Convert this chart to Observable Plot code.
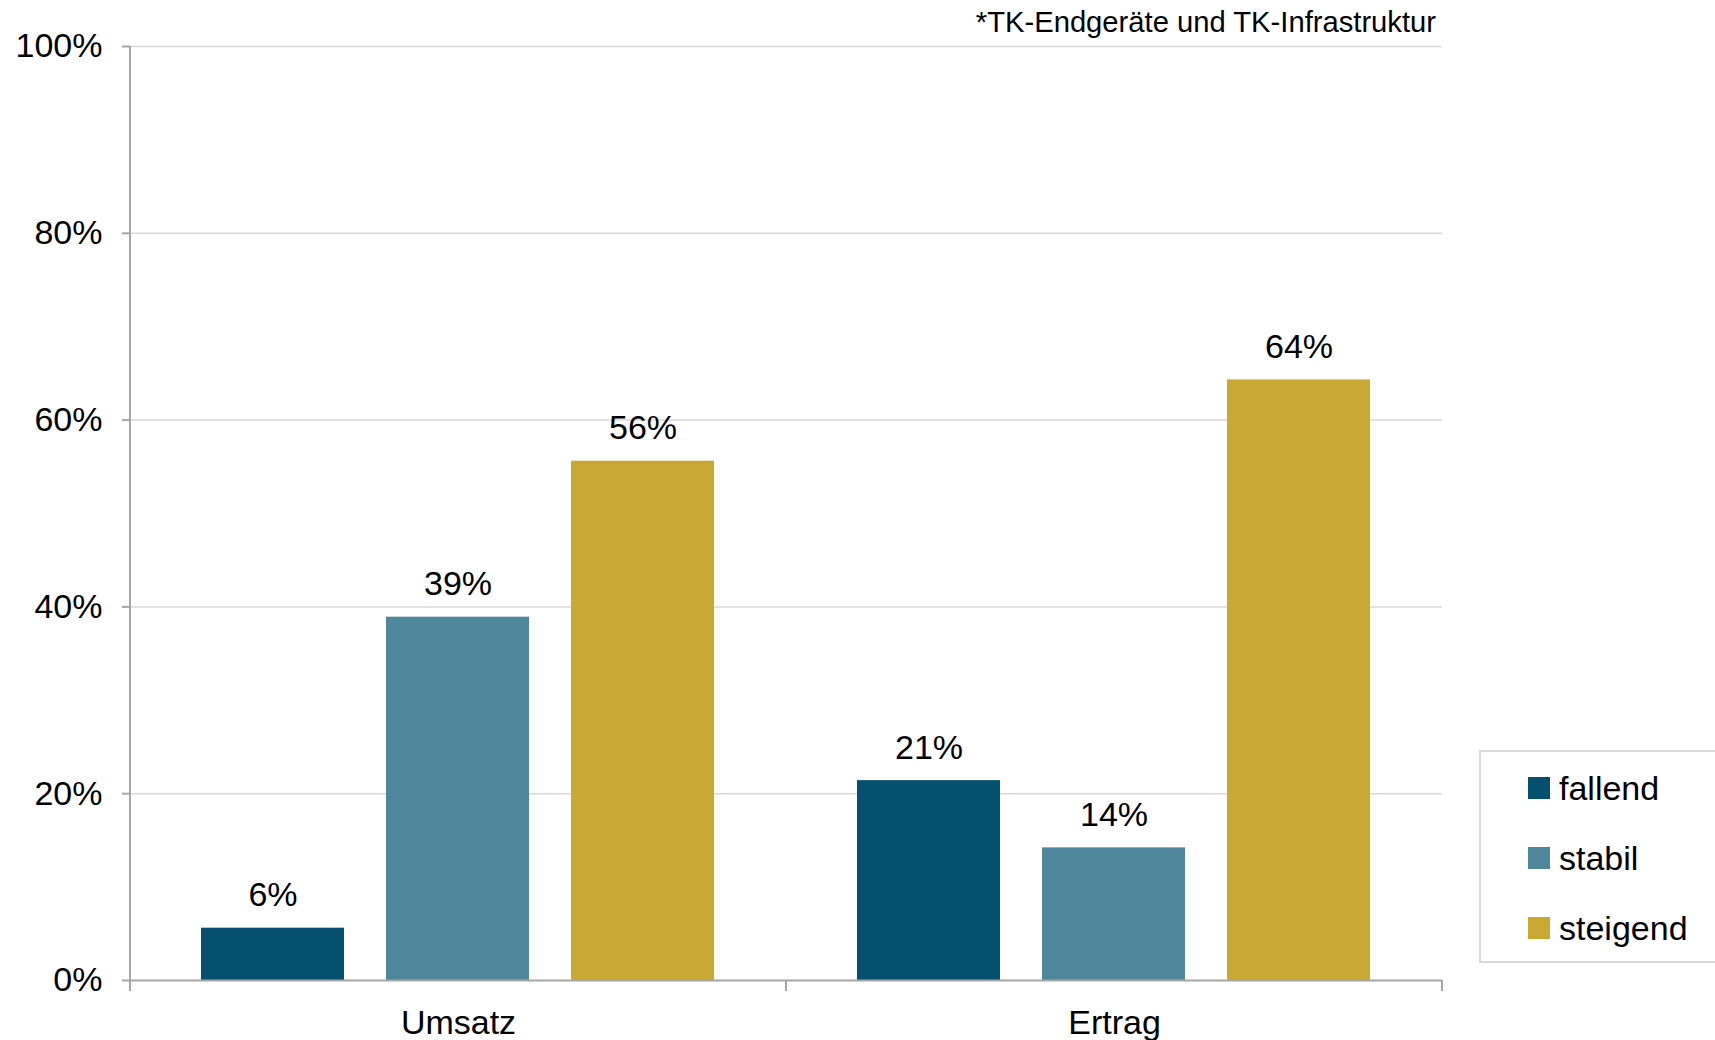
<!DOCTYPE html>
<html>
<head>
<meta charset="utf-8">
<script src="https://cdn.jsdelivr.net/npm/d3@7"></script>
<script src="https://cdn.jsdelivr.net/npm/@observablehq/plot@0.6"></script>
<style>
  body { margin: 0; background: #fff; font-family: Arial, "Liberation Sans", sans-serif; }
  #wrap { position: relative; width: 1715px; height: 1040px; overflow: hidden; background: #fff; }
  #note { position: absolute; top: 8px; right: 279px; font-size: 29.2px; line-height: 1; color: #000; white-space: nowrap; }
  #legend { position: absolute; left: 1479px; top: 750px; width: 260px; height: 213px; border: 2px solid #d9d9d9; box-sizing: border-box; }
  .li { position: absolute; left: 47px; height: 40px; display: flex; align-items: center; font-size: 34px; color: #000; }
  .sw { width: 22px; height: 22px; margin-right: 9px; }
</style>
</head>
<body>
<div id="wrap"></div>
<script>
const categories = ["Umsatz", "Ertrag"];
const series = ["fallend", "stabil", "steigend"];
const umsatzValues = [5.6, 38.9, 55.6];
const ertragValues = [21.4, 14.2, 64.3];
const colors = ["#04506e", "#4e879b", "#c9a933"];
const yTicks = [0, 20, 40, 60, 80, 100];
const note = "*TK-Endgeräte und TK-Infrastruktur";

const valuesByCategory = [umsatzValues, ertragValues];
const data = [];
categories.forEach((c, ci) => {
  series.forEach((s, si) => data.push({category: c, series: s, value: valuesByCategory[ci][si]}));
});

let facetCall = 0;
const boundaryTicks = (index, scales) => {
  const [x0, x1] = scales.x.range();
  const y0 = scales.y(0);
  const [yA, yB] = scales.y.range();
  const g = d3.create("svg:g");
  for (const xx of [x0, x1]) {
    g.append("line").attr("x1", xx).attr("x2", xx).attr("y1", y0).attr("y2", y0 + 11)
      .attr("stroke", "#a6a6a6").attr("stroke-width", 2);
  }
  if (facetCall === 0) {
    g.append("line").attr("x1", x0).attr("x2", x0).attr("y1", Math.min(yA, yB)).attr("y2", Math.max(yA, yB))
      .attr("stroke", "#a6a6a6").attr("stroke-width", 2);
  }
  facetCall++;
  return g.node();
};

const chart = Plot.plot({
  width: 1715,
  height: 1040,
  marginLeft: 130,
  marginRight: 273,
  marginTop: 46,
  marginBottom: 60,
  style: {fontFamily: 'Arial, "Liberation Sans", sans-serif', fontSize: "34px", color: "#000", background: "transparent", overflow: "visible"},
  fx: {domain: categories, padding: 0},
  x: {domain: series, paddingInner: 0.227, paddingOuter: 0.378, axis: null},
  y: {domain: [0, 100]},
  color: {domain: series, range: colors},
  marks: [
    Plot.ruleY(yTicks.filter(t => t > 0), {stroke: "#d9d9d9", strokeWidth: 1.5}),
    Plot.barY(data, {fx: "category", x: "series", y: "value", fill: "series"}),
    Plot.ruleY([0], {stroke: "#a6a6a6", strokeWidth: 2}),
    boundaryTicks,
    Plot.text(data, {fx: "category", x: "series", y: "value", text: d => Math.round(d.value) + "%", dy: -33, fontSize: 34, fill: "#000"}),
    Plot.axisY({ticks: yTicks, tickFormat: d => d + "%", tickSize: 8, tickPadding: 20, fontSize: 34, label: null, stroke: "#a6a6a6", strokeWidth: 2, fill: "#000", strokeOpacity: 1}),
    Plot.axisFx({anchor: "bottom", tickSize: 0, tickPadding: 29, fontSize: 34, label: null, fill: "#000"})
  ]
});

const wrap = document.getElementById("wrap");
wrap.appendChild(chart);

const noteDiv = document.createElement("div");
noteDiv.id = "note";
noteDiv.textContent = note;
wrap.appendChild(noteDiv);

const legend = document.createElement("div");
legend.id = "legend";
series.forEach((s, i) => {
  const item = document.createElement("div");
  item.className = "li";
  item.style.top = (16 + i * 70) + "px";
  const sw = document.createElement("span");
  sw.className = "sw";
  sw.style.background = colors[i];
  const t = document.createElement("span");
  t.textContent = s;
  item.appendChild(sw);
  item.appendChild(t);
  legend.appendChild(item);
});
wrap.appendChild(legend);
</script>
</body>
</html>
